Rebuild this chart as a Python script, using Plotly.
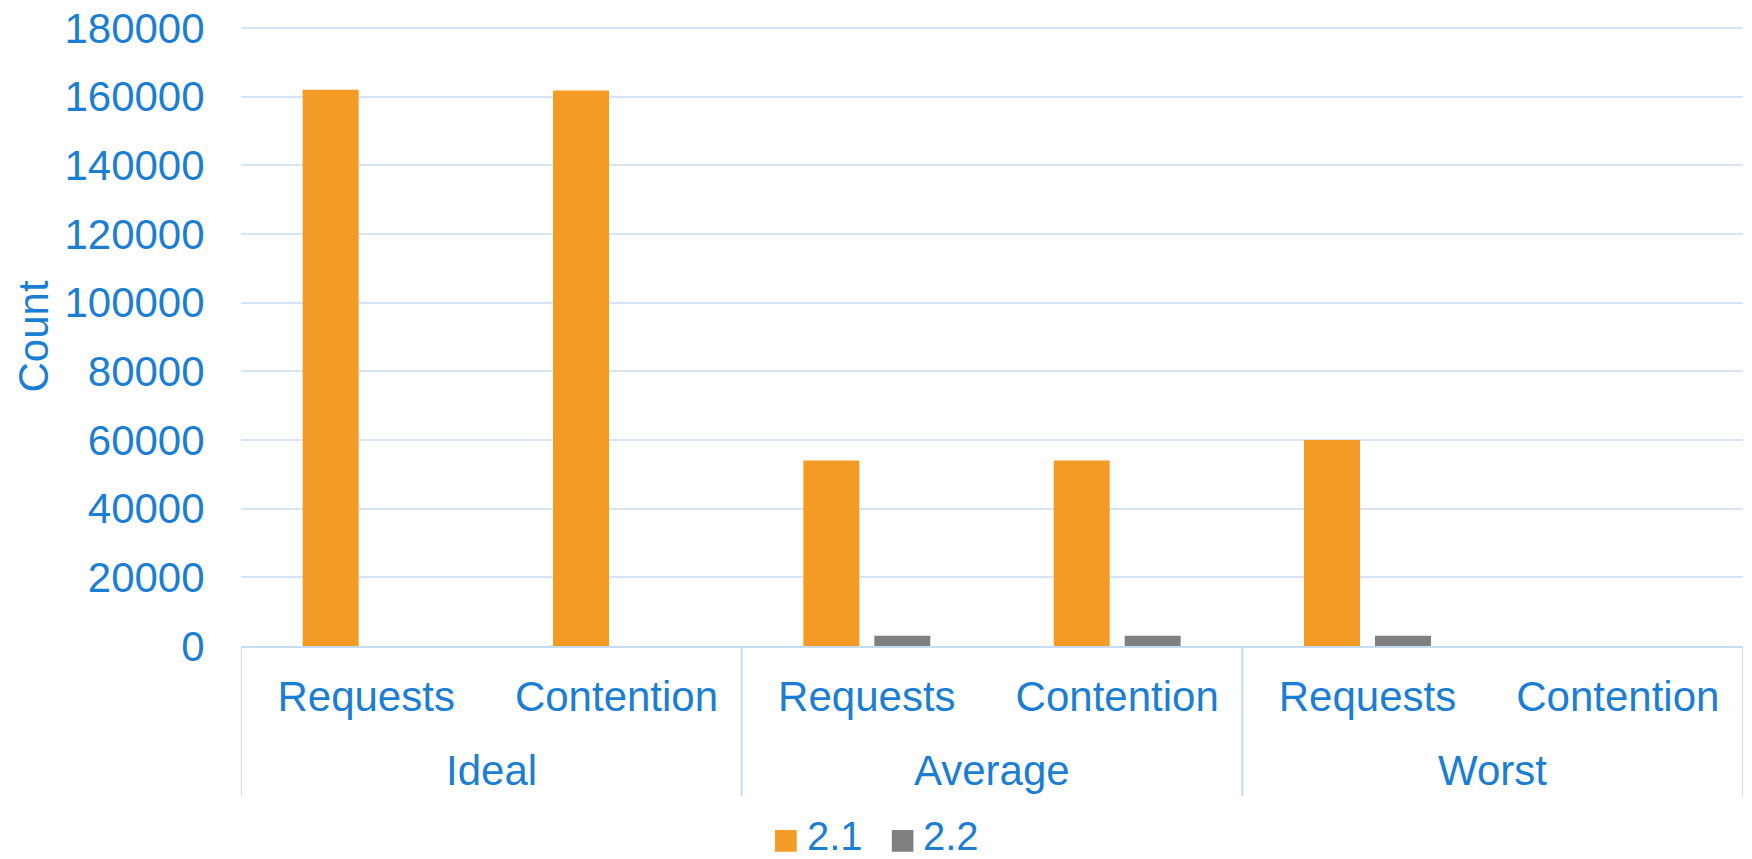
import plotly.graph_objects as go

groups = ["Ideal", "Ideal", "Average", "Average", "Worst", "Worst"]
metrics = ["Requests", "Contention", "Requests", "Contention", "Requests", "Contention"]
series_names = ["2.1", "2.2"]
values_21 = [162000, 161800, 54000, 54000, 60000, 0]
values_22 = [0, 0, 3000, 3000, 3000, 0]
y_ticks = [0, 20000, 40000, 60000, 80000, 100000, 120000, 140000, 160000, 180000]

ORANGE = "#F49B25"
GRAY = "#808080"
BLUE = "#1C7ED3"
GRID = "#D3E5F6"
LINE = "#C6DCF1"
FONT = "Arial, Liberation Sans, sans-serif"
colors = [ORANGE, GRAY]

idx = list(range(len(metrics)))

fig = go.Figure()
for name, vals, col in zip(series_names, [values_21, values_22], colors):
    fig.add_trace(go.Bar(x=idx, y=vals, name=name, showlegend=False,
                         marker=dict(color=col, line=dict(width=0))))

shapes = []
annotations = []
# group labels and dividers (second level of the category axis)
group_order = list(dict.fromkeys(groups))
bounds = set()
for g in group_order:
    members = [i for i, gg in enumerate(groups) if gg == g]
    center = sum(members) / len(members)
    annotations.append(dict(x=center, xref="x", y=-0.2019, yref="paper", text=g,
                            showarrow=False, xanchor="center", yanchor="middle",
                            font=dict(size=42, color=BLUE, family=FONT)))
    bounds.add(min(members) - 0.5)
    bounds.add(max(members) + 0.5)
for b in sorted(bounds):
    shapes.append(dict(type="line", xref="x", yref="paper", x0=b, x1=b, y0=0, y1=-0.2423,
                       line=dict(color=LINE, width=2), layer="below"))

# legend (square swatches + labels)
leg_sq = [(0.3555, 0.3700), (0.4333, 0.4477)]
leg_tx = [0.3755, 0.4527]
for (x0, x1), tx, name, col in zip(leg_sq, leg_tx, series_names, colors):
    shapes.append(dict(type="rect", xref="paper", yref="paper", x0=x0, x1=x1,
                       y0=-0.3324, y1=-0.2973, fillcolor=col, line=dict(width=0)))
    annotations.append(dict(x=tx, xref="paper", y=-0.3074, yref="paper", text=name,
                            showarrow=False, xanchor="left", yanchor="middle",
                            font=dict(size=40, color=BLUE, family=FONT)))

fig.update_layout(
    width=1752, height=859,
    margin=dict(l=241, r=9, t=27, b=213),
    paper_bgcolor="white", plot_bgcolor="white",
    font=dict(family=FONT, size=42, color=BLUE),
    barmode="group", bargap=0.433, bargroupgap=0.211,
    showlegend=False,
    shapes=shapes, annotations=annotations,
    xaxis=dict(range=[-0.5, len(metrics) - 0.5], tickvals=idx, ticktext=metrics,
               showline=True, linecolor=LINE, linewidth=2, showgrid=False, zeroline=False,
               ticks="outside", ticklen=13, tickcolor="rgba(0,0,0,0)", automargin=False,
               tickfont=dict(size=42, color=BLUE)),
    yaxis=dict(range=[0, 180300], tickvals=y_ticks, tickformat="d", showgrid=True,
               gridcolor=GRID, gridwidth=2, zeroline=False, showline=False,
               ticks="outside", ticklen=27, tickcolor="rgba(0,0,0,0)", automargin=False,
               tickfont=dict(size=42, color=BLUE),
               title=dict(text="Count", font=dict(size=42, color=BLUE), standoff=2)),
)

fig.write_html("out.html")
